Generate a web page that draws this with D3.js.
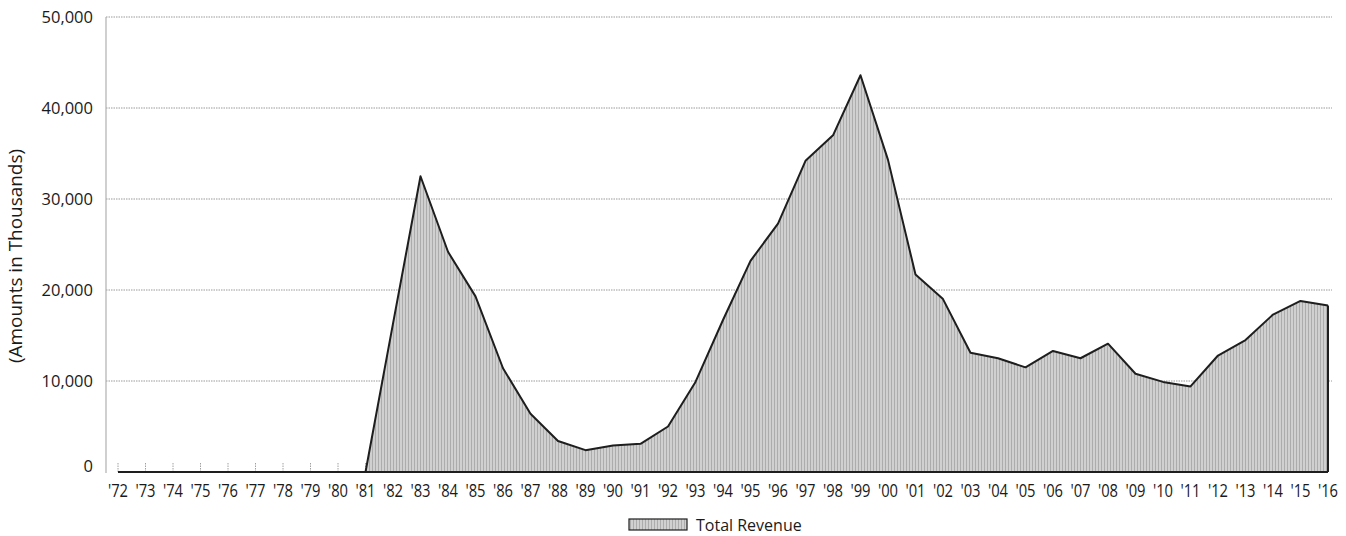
<!DOCTYPE html>
<html>
<head>
<meta charset="utf-8">
<script src="https://cdn.jsdelivr.net/npm/d3@7"></script>
<style>
  html, body { margin: 0; padding: 0; background: #fff; }
  svg { display: block; }
  text { font-family: "Open Sans", "Noto Sans", sans-serif; fill: #1a1a1a; }
</style>
</head>
<body>
<svg id="chart" width="1346" height="536"></svg>
<script>
const years = ["'72","'73","'74","'75","'76","'77","'78","'79","'80","'81","'82","'83","'84","'85","'86","'87","'88","'89","'90","'91","'92","'93","'94","'95","'96","'97","'98","'99","'00","'01","'02","'03","'04","'05","'06","'07","'08","'09","'10","'11","'12","'13","'14","'15","'16"];
const revenue = [0,0,0,0,0,0,0,0,0,0,16300,32500,24200,19300,11400,6400,3400,2400,2900,3100,5000,9900,16700,23200,27300,34200,37000,43600,34300,21700,19000,13100,12500,11500,13300,12500,14100,10800,9900,9400,12800,14500,17300,18800,18300];
const yTicks = [0,10000,20000,30000,40000,50000];
const seriesName = "Total Revenue";
const yTitle = "(Amounts in Thousands)";

const svg = d3.select("#chart");
const x = d3.scalePoint().domain(years).range([118, 1328]);
const y = d3.scaleLinear().domain([0, 50000]).range([472, 17]);

// pattern fill
const defs = svg.append("defs");
const pat = defs.append("pattern").attr("id","hatch").attr("patternUnits","userSpaceOnUse")
  .attr("width",3).attr("height",3);
pat.append("rect").attr("width",3).attr("height",3).attr("fill","#d0d0d0");
pat.append("rect").attr("x",0).attr("width",1).attr("height",3).attr("fill","#acacac");

// gridlines
svg.append("g").selectAll("line").data(yTicks.filter(d => d > 0)).join("line")
  .attr("x1",106).attr("x2",1332)
  .attr("y1",d => y(d)).attr("y2",d => y(d))
  .attr("stroke","#9a9a9a").attr("stroke-width",1).attr("stroke-dasharray","1.5,1");

// left axis line
svg.append("line").attr("x1",106).attr("x2",106).attr("y1",y(50000)).attr("y2",y(0)+1)
  .attr("stroke","#b0b0b0").attr("stroke-width",1.2);

// y tick labels
svg.append("g").selectAll("text").data(yTicks).join("text")
  .attr("x",93).attr("y",d => y(d) + (d === 0 ? 0 : 6))
  .attr("text-anchor","end").attr("font-size",16.5)
  .text(d => d3.format(",")(d));

// y title
svg.append("text").attr("transform","translate(22,256) rotate(-90)")
  .attr("text-anchor","middle").attr("font-size",17.5).attr("fill","#333")
  .attr("textLength",214).attr("lengthAdjust","spacingAndGlyphs").text(yTitle);

// tick marks
svg.append("g").selectAll("line").data(years).join("line")
  .attr("x1",d => x(d)).attr("x2",d => x(d))
  .attr("y1",y(0)).attr("y2",y(0)-10)
  .attr("stroke","#a0a0a0").attr("stroke-width",1).attr("stroke-dasharray","1.5,1");

// area
const data = years.map((d,i) => ({yr:d, v:revenue[i]}));
const area = d3.area().x(d => x(d.yr)).y0(y(0)).y1(d => y(d.v));
svg.append("path").datum(data).attr("d",area).attr("fill","url(#hatch)");
const line = d3.line().x(d => x(d.yr)).y(d => y(d.v));
svg.append("path").datum(data).attr("d",line).attr("fill","none")
  .attr("stroke","#1e1e1e").attr("stroke-width",2).attr("stroke-linejoin","round");
// right closing edge
svg.append("line").attr("x1",x(years[years.length-1])).attr("x2",x(years[years.length-1]))
  .attr("y1",y(revenue[revenue.length-1])).attr("y2",y(0))
  .attr("stroke","#1e1e1e").attr("stroke-width",2);
// baseline
svg.append("line").attr("x1",x(years[0])).attr("x2",x(years[years.length-1]))
  .attr("y1",y(0)).attr("y2",y(0)).attr("stroke","#1e1e1e").attr("stroke-width",2);

// x labels
svg.append("g").selectAll("text").data(years).join("text")
  .attr("x",d => x(d)).attr("y",497)
  .attr("text-anchor","middle").attr("font-size",18)
  .attr("transform",d => `translate(${x(d)},0) scale(0.82,1) translate(${-x(d)},0)`)
  .text(d => d);

// legend
svg.append("rect").attr("x",629).attr("y",519).attr("width",58).attr("height",11)
  .attr("fill","url(#hatch)").attr("stroke","#1e1e1e").attr("stroke-width",1.2);
svg.append("text").attr("x",696).attr("y",531).attr("font-size",16).text(seriesName);
</script>
</body>
</html>
